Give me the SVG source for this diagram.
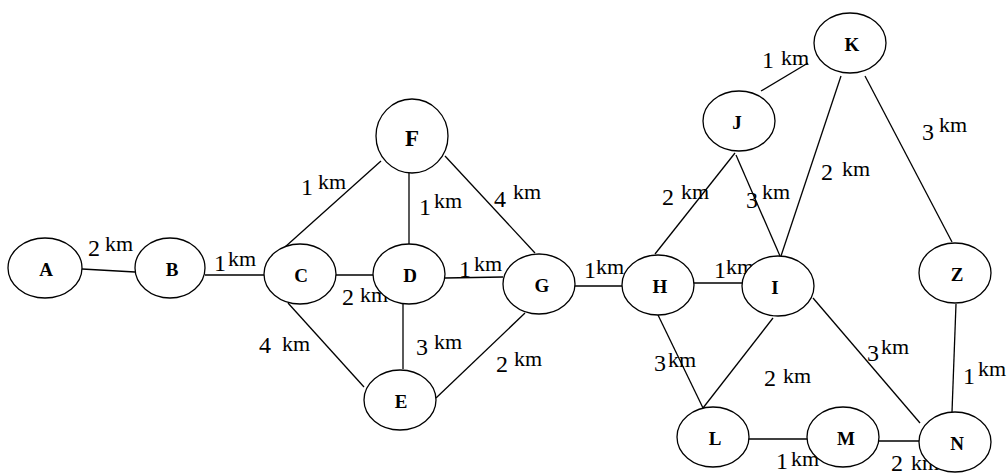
<svg xmlns="http://www.w3.org/2000/svg" width="1007" height="474" viewBox="0 0 1007 474">
<style>
.nd ellipse{fill:#fff;stroke:#000;stroke-width:1.3}
.nd text{font-family:"Liberation Serif","Times New Roman",serif;font-weight:bold;font-size:19px;text-anchor:middle;fill:#000}
#edges line{stroke:#000;stroke-width:1.3}
.lb{font-family:"Liberation Serif","Times New Roman",serif;font-size:24px;fill:#000}
.lb .u{font-size:22px}
</style>
<rect width="1007" height="474" fill="#fff"/>
<g id="edges">
<line x1="82" y1="269" x2="135" y2="272"/>
<line x1="205" y1="275" x2="264" y2="275"/>
<line x1="285" y1="247" x2="381" y2="161"/>
<line x1="336" y1="275" x2="373" y2="275"/>
<line x1="288" y1="303" x2="364" y2="387"/>
<line x1="409" y1="173" x2="409" y2="244"/>
<line x1="445" y1="156" x2="535" y2="253"/>
<line x1="445" y1="278" x2="503" y2="277"/>
<line x1="403" y1="303" x2="403" y2="369"/>
<line x1="525" y1="313" x2="436" y2="398"/>
<line x1="575" y1="286" x2="622" y2="286"/>
<line x1="694" y1="283" x2="742" y2="283"/>
<line x1="655" y1="254" x2="735" y2="153"/>
<line x1="736" y1="155" x2="780" y2="256"/>
<line x1="841" y1="76" x2="781" y2="256"/>
<line x1="808" y1="63" x2="761" y2="91"/>
<line x1="865" y1="76" x2="952" y2="242"/>
<line x1="956" y1="304" x2="952" y2="412"/>
<line x1="658" y1="315" x2="703" y2="408"/>
<line x1="773" y1="318" x2="703" y2="408"/>
<line x1="813" y1="298" x2="920" y2="423"/>
<line x1="749" y1="439" x2="807" y2="439"/>
<line x1="879" y1="441" x2="919" y2="441"/>
</g>
<g id="labels">
<text class="lb" x="88" y="256">2<tspan class="u" x="105" y="251">km</tspan></text>
<text class="lb" x="214" y="271">1<tspan class="u" x="228" y="266">km</tspan></text>
<text class="lb" x="301" y="195">1<tspan class="u" x="318" y="189">km</tspan></text>
<text class="lb" x="419" y="215">1<tspan class="u" x="434" y="208">km</tspan></text>
<text class="lb" x="494" y="207">4<tspan class="u" x="513" y="199">km</tspan></text>
<text class="lb" x="459" y="277">1<tspan class="u" x="474" y="271">km</tspan></text>
<text class="lb" x="342" y="305">2<tspan class="u" x="360" y="302">km</tspan></text>
<text class="lb" x="259" y="353">4<tspan class="u" x="282" y="351">km</tspan></text>
<text class="lb" x="416" y="355">3<tspan class="u" x="434" y="349">km</tspan></text>
<text class="lb" x="496" y="372">2<tspan class="u" x="514" y="366">km</tspan></text>
<text class="lb" x="762" y="68">1<tspan class="u" x="781" y="65">km</tspan></text>
<text class="lb" x="922" y="140">3<tspan class="u" x="939" y="132">km</tspan></text>
<text class="lb" x="821" y="180">2<tspan class="u" x="842" y="176">km</tspan></text>
<text class="lb" x="662" y="205">2<tspan class="u" x="681" y="199">km</tspan></text>
<text class="lb" x="746" y="208">3<tspan class="u" x="762" y="199">km</tspan></text>
<text class="lb" x="584" y="278">1<tspan class="u" x="596" y="274">km</tspan></text>
<text class="lb" x="714" y="278">1<tspan class="u" x="726" y="274">km</tspan></text>
<text class="lb" x="654" y="371">3<tspan class="u" x="668" y="367">km</tspan></text>
<text class="lb" x="764" y="386">2<tspan class="u" x="783" y="383">km</tspan></text>
<text class="lb" x="867" y="361">3<tspan class="u" x="881" y="354">km</tspan></text>
<text class="lb" x="963" y="384">1<tspan class="u" x="978" y="376">km</tspan></text>
<text class="lb" x="776" y="469">1<tspan class="u" x="791" y="466">km</tspan></text>
<text class="lb" x="891" y="471">2<tspan class="u" x="911" y="470">km</tspan></text>
</g>
<g id="A" class="nd"><ellipse cx="45" cy="268" rx="37" ry="30"/><text x="46" y="276">A</text></g>
<g id="B" class="nd"><ellipse cx="170" cy="268" rx="35" ry="30"/><text x="172" y="276">B</text></g>
<g id="C" class="nd"><ellipse cx="300" cy="274" rx="36" ry="30"/><text x="301" y="282">C</text></g>
<g id="D" class="nd"><ellipse cx="409" cy="274" rx="36" ry="30"/><text x="410" y="282">D</text></g>
<g id="F" class="nd"><ellipse cx="412" cy="136" rx="36" ry="37"/><text x="412" y="146" style="font-size:23px">F</text></g>
<g id="G" class="nd"><ellipse cx="539" cy="284" rx="36" ry="30"/><text x="542" y="292">G</text></g>
<g id="E" class="nd"><ellipse cx="400" cy="400" rx="36" ry="30"/><text x="401" y="408">E</text></g>
<g id="H" class="nd"><ellipse cx="658" cy="285" rx="36" ry="30"/><text x="660" y="293">H</text></g>
<g id="I" class="nd"><ellipse cx="778" cy="286" rx="36" ry="30"/><text x="775" y="294">I</text></g>
<g id="J" class="nd"><ellipse cx="739" cy="121" rx="36" ry="30"/><text x="737" y="129">J</text></g>
<g id="K" class="nd"><ellipse cx="850" cy="43" rx="36" ry="30"/><text x="852" y="51">K</text></g>
<g id="Z" class="nd"><ellipse cx="955" cy="273" rx="36" ry="30"/><text x="957" y="281">Z</text></g>
<g id="L" class="nd"><ellipse cx="713" cy="437" rx="36" ry="30"/><text x="715" y="445">L</text></g>
<g id="M" class="nd"><ellipse cx="843" cy="437" rx="36" ry="30"/><text x="846" y="445">M</text></g>
<g id="N" class="nd"><ellipse cx="955" cy="442" rx="36" ry="30"/><text x="957" y="450">N</text></g>
</svg>
